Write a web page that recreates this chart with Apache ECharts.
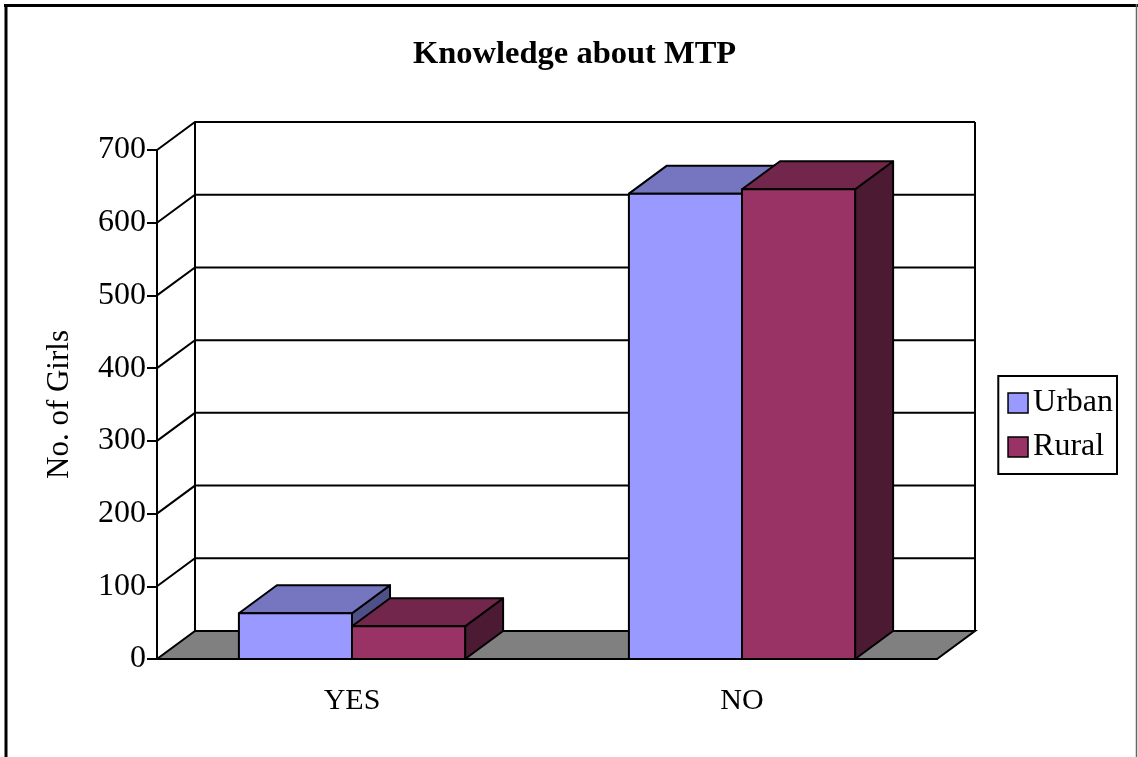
<!DOCTYPE html>
<html>
<head>
<meta charset="utf-8">
<script src="https://cdn.jsdelivr.net/npm/echarts@6/dist/echarts.min.js"></script>
<style>
  html, body { margin: 0; padding: 0; background: #fff; }
  #chart { width: 1138px; height: 757px; }
</style>
</head>
<body>
<div id="chart"></div>
<script>
const categories = ['YES', 'NO']
const urban = [63, 640]
const rural = [45, 646]
const gridValues = [0, 100, 200, 300, 400, 500, 600, 700]

// 3D look, depth offset in pixels
const DX = 38
const DY = 28
const FONT = '"Liberation Serif", "Times New Roman", serif'

const COLORS = {
  urban: { front: '#9999FF', top: '#7676C0', side: '#505088' },
  rural: { front: '#993366', top: '#73264C', side: '#4D1A33' }
}

const chart = echarts.init(document.getElementById('chart'))

// back wall, side wall gridlines and the floor
const renderFrame = (params, api) => {
  const cs = params.coordSys
  const v = api.value(0)
  const y = api.coord([0, v])[1]
  const x0 = cs.x
  const x1 = cs.x + cs.width
  const line = { stroke: '#000', lineWidth: 2, fill: 'none' }
  const children = []
  if (v === 0) {
    children.push({
      type: 'polygon',
      shape: { points: [[x0, y], [x1, y], [x1 + DX, y - DY], [x0 + DX, y - DY]] },
      style: { fill: '#808080', stroke: '#000', lineWidth: 2 }
    })
  } else {
    children.push({
      type: 'polyline',
      shape: { points: [[x0, y], [x0 + DX, y - DY], [x1 + DX, y - DY]] },
      style: line
    })
  }
  if (v === 700) {
    const yb = api.coord([0, 0])[1]
    children.push({ type: 'line', shape: { x1: x0 + DX, y1: y - DY, x2: x0 + DX, y2: yb - DY }, style: line })
    children.push({ type: 'line', shape: { x1: x1 + DX, y1: y - DY, x2: x1 + DX, y2: yb - DY }, style: line })
  }
  return { type: 'group', children }
}

const makeBarRenderer = (c, left) => (params, api) => {
  const idx = api.value(0)
  const base = api.coord([idx, 0])
  const top = api.coord([idx, api.value(1)])
  const w = api.size([1, 0])[0] * 0.29
  const x = left ? base[0] - w : base[0]
  const yt = top[1]
  const yb = base[1]
  const stroke = { stroke: '#000', lineWidth: 2, lineJoin: 'round' }
  return {
    type: 'group',
    children: [
      {
        type: 'polygon',
        shape: { points: [[x + w, yt], [x + w + DX, yt - DY], [x + w + DX, yb - DY], [x + w, yb]] },
        style: Object.assign({ fill: c.side }, stroke)
      },
      {
        type: 'polygon',
        shape: { points: [[x, yt], [x + w, yt], [x + w + DX, yt - DY], [x + DX, yt - DY]] },
        style: Object.assign({ fill: c.top }, stroke)
      },
      {
        type: 'rect',
        shape: { x: x, y: yt, width: w, height: yb - yt },
        style: Object.assign({ fill: c.front }, stroke)
      }
    ]
  }
}

const option = {
  animation: false,
  backgroundColor: '#fff',
  title: {
    text: 'Knowledge about MTP',
    left: 408,
    top: 33,
    textStyle: { fontFamily: FONT, fontSize: 32.5, fontWeight: 'bold', color: '#000' }
  },
  legend: {
    orient: 'vertical',
    right: 21,
    top: 376,
    data: ['Urban', 'Rural'],
    icon: 'rect',
    itemWidth: 20,
    itemHeight: 20,
    itemGap: 12,
    padding: [11, 4, 11, 9],
    borderColor: '#000',
    borderWidth: 2,
    itemStyle: { borderColor: '#000', borderWidth: 1.5 },
    textStyle: { fontFamily: FONT, fontSize: 32, color: '#000', padding: [0, 0, 0, 0] }
  },
  grid: { left: 157, top: 150, width: 780, height: 509 },
  xAxis: {
    type: 'category',
    data: categories,
    axisLine: { lineStyle: { color: '#000', width: 2 } },
    axisTick: { length: 10, lineStyle: { color: '#000', width: 2 } },
    axisLabel: { margin: 27, fontFamily: FONT, fontSize: 30, color: '#000' }
  },
  yAxis: {
    type: 'value',
    min: 0,
    max: 700,
    interval: 100,
    name: 'No. of Girls',
    nameLocation: 'middle',
    nameGap: 82,
    nameTextStyle: { fontFamily: FONT, fontSize: 31, color: '#000' },
    axisLine: { show: true, lineStyle: { color: '#000', width: 2 } },
    axisTick: { show: true, length: 10, lineStyle: { color: '#000', width: 2 } },
    axisLabel: { margin: 11, fontFamily: FONT, fontSize: 32, color: '#000' },
    splitLine: { show: false }
  },
  series: [
    {
      type: 'custom',
      name: 'frame',
      silent: true,
      clip: false,
      z: 1,
      renderItem: renderFrame,
      encode: { y: 0 },
      data: gridValues.map(v => [v])
    },
    {
      type: 'custom',
      name: 'Urban',
      clip: false,
      z: 3,
      itemStyle: { color: COLORS.urban.front },
      renderItem: makeBarRenderer(COLORS.urban, true),
      encode: { x: 0, y: 1 },
      data: urban.map((v, i) => [i, v])
    },
    {
      type: 'custom',
      name: 'Rural',
      clip: false,
      z: 4,
      itemStyle: { color: COLORS.rural.front },
      renderItem: makeBarRenderer(COLORS.rural, false),
      encode: { x: 0, y: 1 },
      data: rural.map((v, i) => [i, v])
    }
  ],
  graphic: [
    { type: 'line', shape: { x1: 4, y1: 5.5, x2: 1138, y2: 5.5 }, style: { stroke: '#000', lineWidth: 3 } },
    { type: 'line', shape: { x1: 6, y1: 4, x2: 6, y2: 757 }, style: { stroke: '#000', lineWidth: 3 } },
    { type: 'line', shape: { x1: 1136.5, y1: 4, x2: 1136.5, y2: 757 }, style: { stroke: '#666', lineWidth: 1.5 } }
  ]
}

chart.setOption(option)
window.addEventListener('resize', () => chart.resize())
</script>
</body>
</html>
